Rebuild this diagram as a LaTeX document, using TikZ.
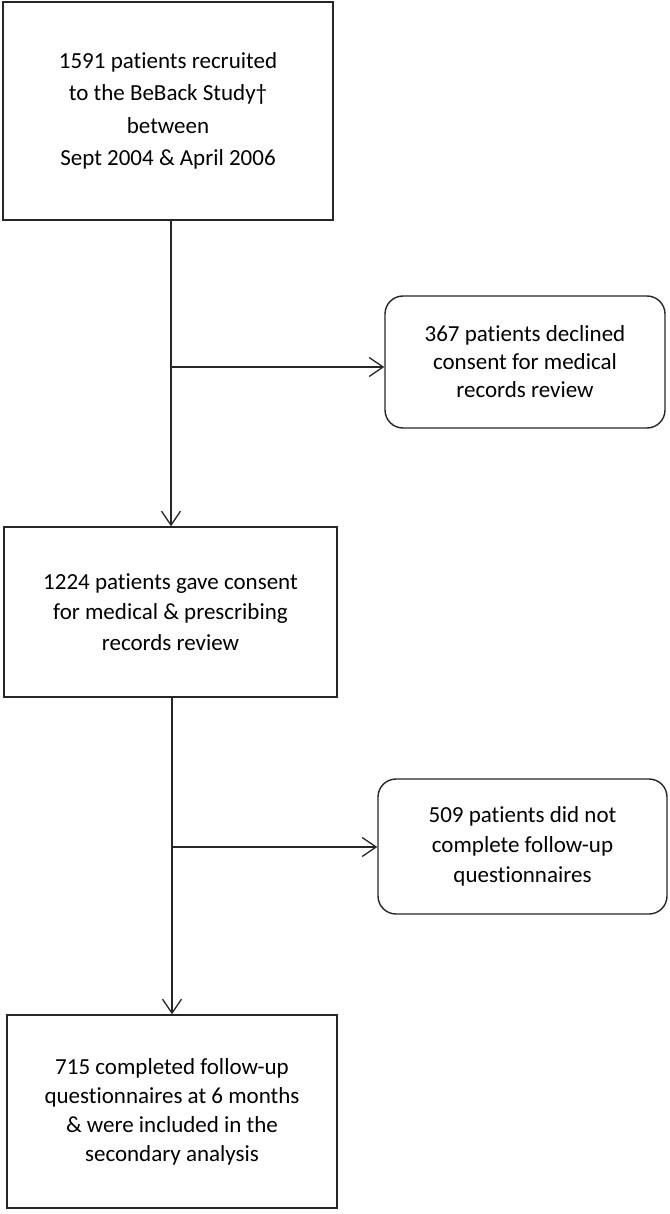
\documentclass[tikz,border=0pt]{standalone}
\usepackage{fontspec}
\setmainfont{Carlito}[Ligatures={NoCommon,NoContextual}]
\usetikzlibrary{arrows.meta}
\begin{document}
\begin{tikzpicture}[x=1pt,y=-1pt,
  box/.style={draw=black!85, line width=1.4pt, align=center, inner sep=0pt},
  sidebox/.style={box, rounded corners=18pt},
  conn/.style={draw=black!85, line width=1.3pt},
  arr/.style={conn, -{Straight Barb[length=14pt,width=19pt,line width=1.3pt]}}
]
\useasboundingbox (0,0) rectangle (669,1214);
\node[box, minimum width=330pt, minimum height=218pt,
      font=\fontsize{23}{32.5}\selectfont] (b1) at (168,111)
  {1591 patients recruited\\to the BeBack Study†\\between\\Sept 2004 \& April 2006};
\node[box, minimum width=333pt, minimum height=170pt,
      font=\fontsize{23}{30.5}\selectfont] (b2) at (170.5,612)
  {1224 patients gave consent\\for medical \& prescribing\\records review};
\node[box, minimum width=330pt, minimum height=193pt,
      font=\fontsize{23}{29}\selectfont] (b3) at (172,1111.5)
  {715 completed follow-up\\questionnaires at 6 months\\\& were included in the\\secondary analysis};
\node[sidebox, minimum width=280pt, minimum height=132pt,
      font=\fontsize{23}{28}\selectfont] (s1) at (525,362)
  {367 patients declined\\consent for medical\\records review};
\node[sidebox, minimum width=289pt, minimum height=135pt,
      font=\fontsize{23}{30}\selectfont] (s2) at (522.5,846.5)
  {509 patients did not\\complete follow-up\\questionnaires};
\coordinate (j1) at (171,367);
\coordinate (j2) at (172,847);
\draw[arr] (b1.south -| j1) -- (b2.north -| j1);
\draw[arr] (j1) -- (j1 -| s1.west);
\draw[arr] (b2.south -| j2) -- (b3.north -| j2);
\draw[arr] (j2) -- (j2 -| s2.west);
\end{tikzpicture}
\end{document}
